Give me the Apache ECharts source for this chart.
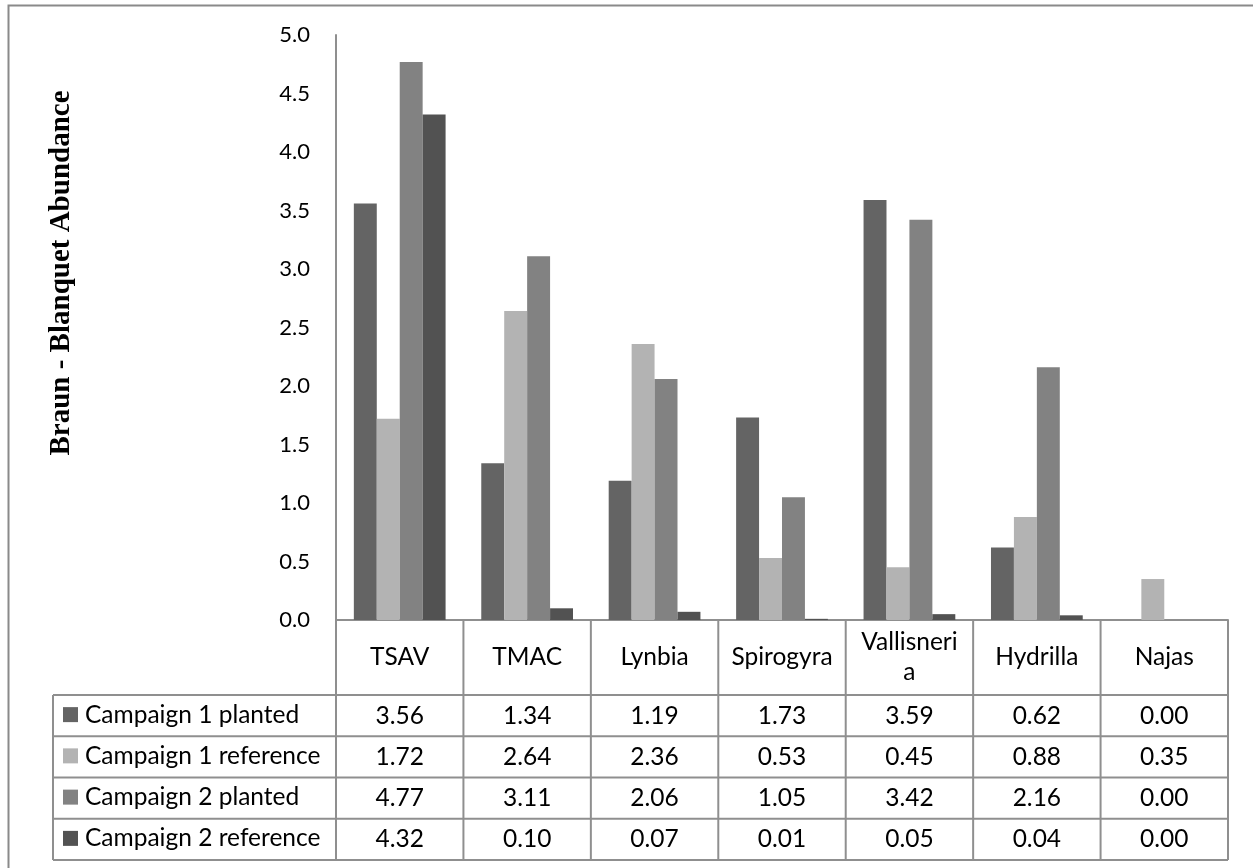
<!DOCTYPE html>
<html>
<head>
<meta charset="utf-8">
<title>Braun - Blanquet Abundance</title>
<script src="https://cdn.jsdelivr.net/npm/echarts@6/dist/echarts.min.js"></script>
<style>
  html, body { margin: 0; padding: 0; background: #ffffff; }
  #chart { width: 1253px; height: 868px; }
</style>
</head>
<body>
<div id="chart"></div>
<script>
// Species (categories) and the header text shown in the data table
const categories = ['TSAV', 'TMAC', 'Lynbia', 'Spirogyra', 'Vallisneria', 'Hydrilla', 'Najas'];
const headerLabels = ['TSAV', 'TMAC', 'Lynbia', 'Spirogyra', 'Vallisneri\na', 'Hydrilla', 'Najas'];

// Series names and values
const seriesNames = ['Campaign 1 planted', 'Campaign 1 reference', 'Campaign 2 planted', 'Campaign 2 reference'];
const campaign1Planted   = [3.56, 1.34, 1.19, 1.73, 3.59, 0.62, 0.00];
const campaign1Reference = [1.72, 2.64, 2.36, 0.53, 0.45, 0.88, 0.35];
const campaign2Planted   = [4.77, 3.11, 2.06, 1.05, 3.42, 2.16, 0.00];
const campaign2Reference = [4.32, 0.10, 0.07, 0.01, 0.05, 0.04, 0.00];
const seriesValues = [campaign1Planted, campaign1Reference, campaign2Planted, campaign2Reference];

// Value axis range
const yMin = 0;
const yMax = 5;
const yStep = 0.5;

const palette = ['#646464', '#b3b3b3', '#828282', '#525252'];
const gridLine = '#8f8f8f';
const textFont = 'Lato';
const tableFontSize = 24.5;

const chart = echarts.init(document.getElementById('chart'), null, { renderer: 'canvas' });

chart.setOption({
  animation: false,
  backgroundColor: '#ffffff',
  color: palette,
  grid: { left: 336, right: 25, top: 35, bottom: 248, containLabel: false },
  legend: {
    orient: 'vertical',
    left: 63,
    top: 694,
    padding: 0,
    itemGap: 0,
    itemWidth: 15,
    itemHeight: 15,
    icon: 'rect',
    selectedMode: false,
    data: seriesNames,
    textStyle: { fontFamily: textFont, fontSize: tableFontSize, color: '#000000', lineHeight: 41.25, padding: [0, 0, 0, 2] }
  },
  xAxis: {
    type: 'category',
    data: categories,
    axisLine: { show: true, lineStyle: { color: gridLine, width: 2 } },
    axisTick: { show: false },
    axisLabel: { show: false },
    splitLine: { show: false }
  },
  yAxis: {
    type: 'value',
    min: yMin,
    max: yMax,
    interval: yStep,
    axisLine: { show: true, lineStyle: { color: gridLine, width: 2 } },
    axisTick: { show: false },
    splitLine: { show: false },
    axisLabel: {
      margin: 26,
      fontFamily: textFont,
      fontSize: 22,
      color: '#000000',
      formatter: v => v.toFixed(1)
    }
  },
  series: seriesNames.map((name, i) => ({
    name: name,
    type: 'bar',
    data: seriesValues[i],
    barGap: '0%',
    barCategoryGap: '28%',
    itemStyle: { color: palette[i] }
  }))
});

// Data table under the plot, aligned to the category bands
function buildTable() {
  const centers = categories.map((c, i) => chart.convertToPixel({ xAxisIndex: 0 }, i));
  const band = centers[1] - centers[0];
  const left = centers[0] - band / 2;
  const right = centers[centers.length - 1] + band / 2;
  const base = chart.convertToPixel({ yAxisIndex: 0 }, yMin);
  const headerBottom = base + 75;
  const rowH = 41.25;
  const tableBottom = headerBottom + rowH * seriesNames.length;
  const legendLeft = 53;

  const els = [];
  const line = (x1, y1, x2, y2) => ({
    type: 'line',
    shape: { x1, y1, x2, y2 },
    style: { stroke: gridLine, lineWidth: 2 },
    silent: true,
    z: 10
  });

  // horizontal rules
  for (let r = 0; r <= seriesNames.length; r++) {
    const y = headerBottom + r * rowH;
    els.push(line(legendLeft, y, right, y));
  }
  // vertical rules
  for (let i = 0; i <= categories.length; i++) {
    const x = left + i * band;
    els.push(line(x, base, x, tableBottom));
  }
  els.push(line(legendLeft, headerBottom, legendLeft, tableBottom));

  // header labels
  headerLabels.forEach((label, i) => {
    els.push({
      type: 'text',
      x: centers[i],
      y: (base + headerBottom) / 2,
      silent: true,
      style: {
        text: label,
        fontFamily: textFont,
        fontSize: tableFontSize,
        lineHeight: 30,
        fill: '#000000',
        align: 'center',
        verticalAlign: 'middle'
      }
    });
  });

  // value cells
  seriesValues.forEach((vals, r) => {
    vals.forEach((v, i) => {
      els.push({
        type: 'text',
        x: centers[i],
        y: headerBottom + rowH * (r + 0.5),
        silent: true,
        style: {
          text: v.toFixed(2),
          fontFamily: textFont,
          fontSize: tableFontSize,
          fill: '#000000',
          align: 'center',
          verticalAlign: 'middle'
        }
      });
    });
  });

  // axis title
  els.push({
    type: 'text',
    x: 62,
    y: 273,
    rotation: Math.PI / 2,
    silent: true,
    style: {
      text: 'Braun - Blanquet Abundance',
      fontFamily: 'Liberation Serif',
      fontWeight: 'bold',
      fontSize: 29,
      fill: '#000000',
      align: 'center',
      verticalAlign: 'middle'
    }
  });

  // chart frame
  els.push({
    type: 'rect',
    shape: { x: 8.5, y: 5.5, width: 1252, height: 870 },
    style: { fill: null, stroke: '#8a8a8a', lineWidth: 2 },
    silent: true,
    z: 20
  });

  chart.setOption({ graphic: els });
}

buildTable();
</script>
</body>
</html>
